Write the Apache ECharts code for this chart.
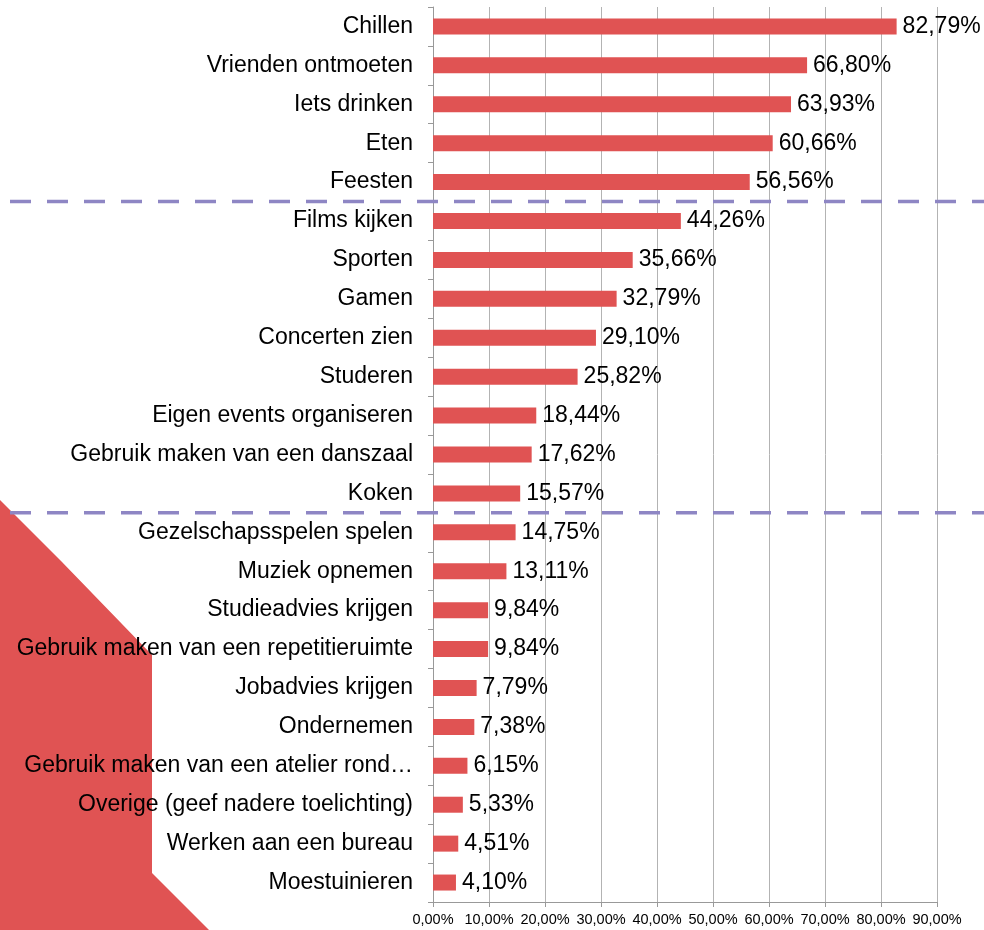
<!DOCTYPE html>
<html>
<head>
<meta charset="utf-8">
<script src="https://cdn.jsdelivr.net/npm/echarts@6/dist/echarts.min.js"></script>
<style>
  html, body { margin: 0; padding: 0; background: #fff; }
  #barChart { width: 984px; height: 930px; }
</style>
</head>
<body>
<div id="barChart"></div>
<script>
const categories = [
  'Chillen', 'Vrienden ontmoeten', 'Iets drinken', 'Eten', 'Feesten',
  'Films kijken', 'Sporten', 'Gamen', 'Concerten zien', 'Studeren',
  'Eigen events organiseren', 'Gebruik maken van een danszaal', 'Koken',
  'Gezelschapsspelen spelen', 'Muziek opnemen', 'Studieadvies krijgen',
  'Gebruik maken van een repetitieruimte', 'Jobadvies krijgen', 'Ondernemen',
  'Gebruik maken van een atelier rond\u2026', 'Overige (geef nadere toelichting)',
  'Werken aan een bureau', 'Moestuinieren'
];
const percentages = [
  82.79, 66.80, 63.93, 60.66, 56.56,
  44.26, 35.66, 32.79, 29.10, 25.82,
  18.44, 17.62, 15.57,
  14.75, 13.11, 9.84,
  9.84, 7.79, 7.38,
  6.15, 5.33,
  4.51, 4.10
];
// dashed separators sit below these categories
const groupEnds = ['Feesten', 'Koken'];

const red = '#e05353';
const font = 'Liberation Sans, Arial, sans-serif';
const fmt = v => v.toFixed(2).replace('.', ',') + '%';

const chart = echarts.init(document.getElementById('barChart'));

const getOption = () => ({
  animation: false,
  grid: { left: 433, right: 47, top: 7, bottom: 28, containLabel: false },
  xAxis: {
    type: 'value',
    min: 0,
    max: 90,
    interval: 10,
    axisLine: { show: true, lineStyle: { color: '#999', width: 1 } },
    axisTick: { show: true, length: 5, lineStyle: { color: '#999' } },
    splitLine: { show: true, lineStyle: { color: '#b3b3b3', width: 1 } },
    axisLabel: {
      formatter: fmt,
      color: '#000',
      fontFamily: font,
      fontSize: 14.5,
      margin: 10
    }
  },
  yAxis: {
    type: 'category',
    inverse: true,
    data: categories,
    axisLine: { show: true, lineStyle: { color: '#999', width: 1 } },
    axisTick: { show: true, length: 5, inside: false, lineStyle: { color: '#999' } },
    axisLabel: {
      color: '#000',
      fontFamily: font,
      fontSize: 23,
      margin: 20
    }
  },
  series: [
    {
      type: 'bar',
      data: percentages,
      barWidth: 16,
      itemStyle: { color: red },
      label: {
        show: true,
        position: 'right',
        distance: 6,
        formatter: p => fmt(p.value),
        color: '#000',
        fontFamily: font,
        fontSize: 23
      }
    }
  ]
});

chart.setOption(getOption());

// separators between groups, drawn across the full width
const sepY = groupEnds.map(name => {
  const i = categories.indexOf(name);
  const a = chart.convertToPixel({ yAxisIndex: 0 }, categories[i]);
  const b = chart.convertToPixel({ yAxisIndex: 0 }, categories[i + 1]);
  return (a + b) / 2;
});

chart.setOption({
  graphic: [
    {
      type: 'polygon',
      z: -10,
      silent: true,
      shape: { points: [[0, 500], [62, 562], [152, 655], [152, 873], [209, 930], [0, 930]] },
      style: { fill: red }
    },
    ...sepY.map(y => ({
      type: 'line',
      z: 50,
      silent: true,
      shape: { x1: 10, y1: y, x2: 984, y2: y },
      style: { stroke: '#8e86c4', lineWidth: 3.5, lineDash: [21, 16] }
    }))
  ]
});

window.onresize = chart.resize;
</script>
</body>
</html>
